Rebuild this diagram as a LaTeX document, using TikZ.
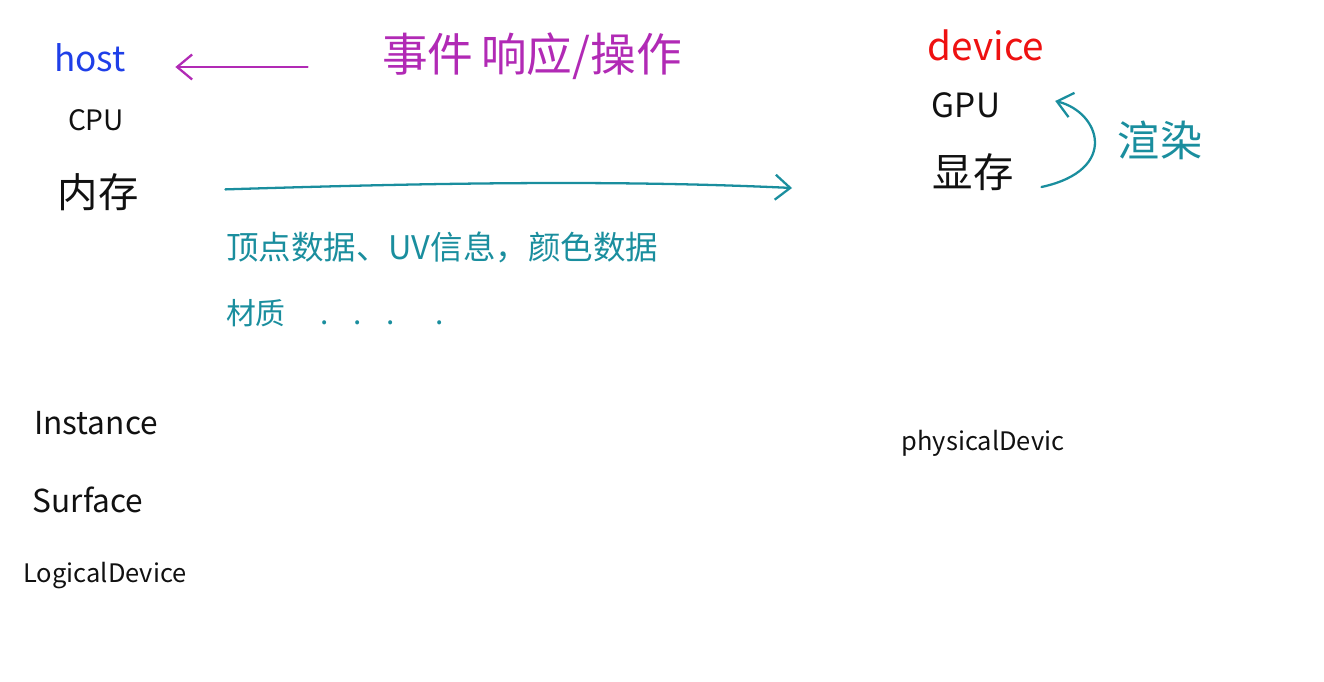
\documentclass[tikz,border=0pt]{standalone}
\usepackage{fontspec}
\setmainfont{Noto Sans CJK SC}
\usepackage{xcolor}
\usetikzlibrary{positioning,arrows.meta,calc}
\definecolor{hostblue}{HTML}{1F3FE8}
\definecolor{evtpink}{HTML}{B12AB5}
\definecolor{devred}{HTML}{EE1111}
\definecolor{dteal}{HTML}{1A8E9E}
\definecolor{ink}{HTML}{111111}

\begin{document}
\begin{tikzpicture}[x=0.02cm,y=-0.02cm,
   lbl/.style={inner sep=1pt,color=ink},
   big/.style={lbl,font=\fontsize{23}{25}\selectfont},
   mid/.style={lbl,font=\fontsize{18}{20}\selectfont},
   small/.style={lbl,font=\fontsize{14.5}{16}\selectfont},
   flow/.style={-{Straight Barb[length=3mm,width=5mm]},line width=1.3pt,line cap=round}]
 \useasboundingbox (0,0) rectangle (1324,682);
 % host side
 \node[lbl,font=\fontsize{20}{22}\selectfont,color=hostblue] (host) at (90,58) {host};
 \node[lbl,font=\fontsize{16}{18}\selectfont] (cpu) at (96,120) {CPU};
 \node[big] (mem) at (98,192) {内存};
 \node[lbl,font=\fontsize{26}{28}\selectfont,color=evtpink] (evt) at (532,56) {事件\,响应/操作};
 % device side
 \node[lbl,font=\fontsize{22}{24}\selectfont,color=devred] (dev) at (986,45) {device};
 \node[lbl,font=\fontsize{19}{21}\selectfont] (gpu) at (966,105) {GPU};
 \node[big] (vram) at (973,172) {显存};
 \node[lbl,font=\fontsize{24}{26}\selectfont,color=dteal] (render) at (1160,140) {渲染};
 % transferred data
 \node[lbl,font=\fontsize{18.5}{20}\selectfont,color=dteal,anchor=west] (data) at (224,247) {顶点数据、UV信息，颜色数据};
 \node[lbl,font=\fontsize{17}{19}\selectfont,color=dteal,anchor=west] (mat) at (224,313) {材质\hspace{20pt}.\hspace{14pt}.\hspace{14pt}.\hspace{23pt}.};
 % vulkan objects
 \node[mid] (inst) at (96,423) {Instance};
 \node[mid] (surf) at (88,500) {Surface};
 \node[small] (ldev) at (105,576) {LogicalDevice};
 \node[small] (pdev) at (983,443) {physicalDevic};
 % connectors
 \coordinate (gpuside) at (792,188);
 \draw[flow,color=evtpink,shorten <=1.45cm,shorten >=0.95cm] ($(evt.west |- host)+(0,9)$) -- ($(host.east)+(0,9)$);
 \draw[flow,color=dteal,shorten <=1.7cm] (mem.east) .. controls (400,184) and (600,179) .. (gpuside);
 \coordinate (rs) at ($(vram.east)+(26,15)$);
 \coordinate (re) at ($(gpu.east)+(53,-4)$);
 \draw[flow,color=dteal] (rs) .. controls (1120,170) and (1100,112) .. (re);
\end{tikzpicture}
\end{document}
